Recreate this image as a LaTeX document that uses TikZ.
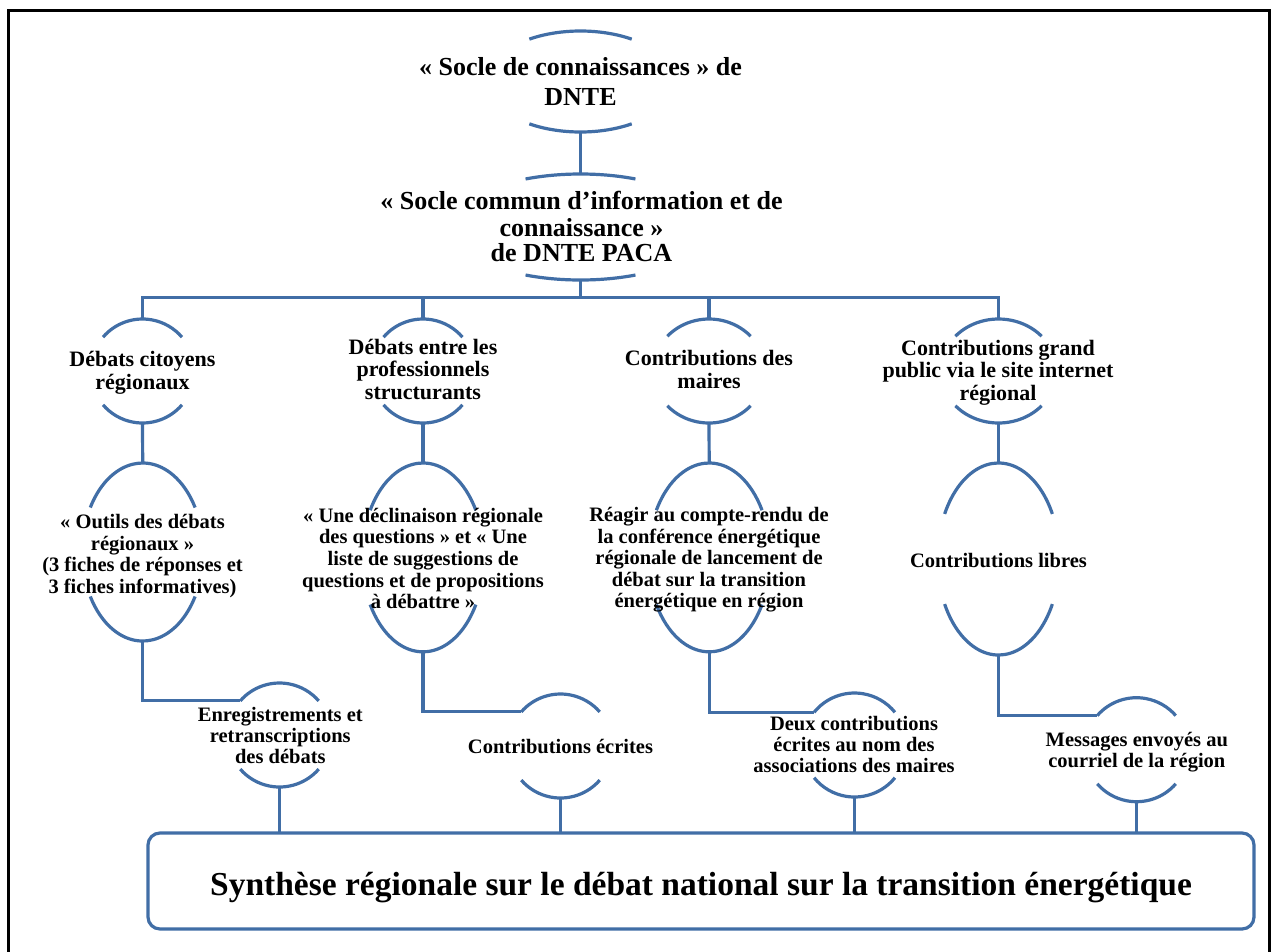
\documentclass[tikz,border=0pt]{standalone}
\usepackage{fontspec}
\setmainfont{Liberation Serif}
\usetikzlibrary{shapes.geometric,calc}
\definecolor{lineblue}{RGB}{65,110,166}
\tikzset{
  conn/.style={draw=lineblue, line width=3.2pt},
  shapearc/.style={draw=lineblue, line width=3.2pt},
  hold/.style={ellipse, draw=none, inner sep=0pt, outer sep=0pt},
  lab/.style={align=center, inner sep=0pt},
  fA/.style={lab, font=\fontsize{26}{30}\selectfont\bfseries},
  fB/.style={lab, font=\fontsize{26}{25.3}\selectfont\bfseries},
  fC/.style={lab, font=\fontsize{22}{22.5}\selectfont\bfseries},
  fD/.style={lab, font=\fontsize{20.5}{21.6}\selectfont\bfseries},
  fE/.style={lab, font=\fontsize{20.5}{21}\selectfont\bfseries},
  fF/.style={lab, font=\fontsize{33.5}{38}\selectfont\bfseries},
}
\newcommand\ovalnode[6]{%
  \node[hold, minimum width=#4*2pt, minimum height=#5*2pt] (#1) at (#2,#3) {};
  \draw[shapearc] (#1.center) ++({180+#6}:{#4} and {#5}) coordinate (#1-tl)
     arc[start angle={180+#6}, end angle={360-#6}, x radius=#4, y radius=#5];
  \draw[shapearc] (#1.center) ++({#6}:{#4} and {#5})
     arc[start angle={#6}, end angle={180-#6}, x radius=#4, y radius=#5];
}
\begin{document}
\begin{tikzpicture}[x=1pt,y=-1pt]
\useasboundingbox (0,0) rectangle (1271,951);
\fill[white] (0,0) rectangle (1271,951);
% outer frame
\draw[line width=3pt] (8.8,960) -- (8.8,10.3) -- (1269.6,10.3) -- (1269.6,960);

% shapes
\ovalnode{n1}{580.5}{81.5}{94}{50.5}{57}
\ovalnode{n2}{580.5}{227}{130}{53}{65}
\ovalnode{l2a}{142.5}{371}{52}{52}{40.6}
\ovalnode{l2b}{423}{371}{52}{52}{40.6}
\ovalnode{l2c}{709}{371}{56}{52}{42}
\ovalnode{l2d}{998.5}{371}{58}{52}{42}
\ovalnode{l3a}{142.7}{552}{60.5}{89}{30}
\ovalnode{l3b}{423}{557.4}{61}{94.4}{30}
\ovalnode{l3c}{709.2}{557.4}{61}{94.4}{30}
\ovalnode{l3d}{998.5}{559}{61}{96}{28}
\ovalnode{l4a}{279.5}{735}{52}{52}{41}
\ovalnode{l4b}{560.5}{746}{52}{52}{41}
\ovalnode{l4c}{854.5}{745}{52}{52}{39}
\ovalnode{l4d}{1136.5}{749.7}{52}{52}{41}

\node[draw=lineblue, line width=3.2pt, rounded corners=12pt, minimum width=1106pt,
      minimum height=96pt, inner sep=0pt, outer sep=0pt] (syn) at (701,881) {};

% connectors
\coordinate (bus) at (580.5,297.5);
\draw[conn] (n1.south) -- (n2.north);
\draw[conn] (n2.south) -- (bus);
\draw[conn] (l2a.north) |- (bus) -| (l2d.north);
\draw[conn] (l2b.north) -- (l2b.north |- bus);
\draw[conn] (l2c.north) -- (l2c.north |- bus);
\foreach \s in {a,b,c,d}{
  \draw[conn] (l2\s.south) -- (l3\s.north);
  \draw[conn] (l3\s.south) |- (l4\s-tl);
  \draw[conn] (l4\s.south) -- (l4\s.south |- syn.north);
}

% texts
\node[fA] (t-n1) at (580.5,84) {\strut« Socle de connaissances » de\\DNTE\strut};
\node[fB] (t-n2) at (581.5,230.3) {\strut« Socle commun d’information et de\\connaissance »\\de DNTE PACA\strut};
\node[fC] (t-l2a) at (142.5,373.5) {\strut Débats citoyens\\régionaux\strut};
\node[fC] (t-l2b) at (423,372.2) {\strut Débats entre les\\professionnels\\structurants\strut};
\node[fC] (t-l2c) at (709,372.7) {\strut Contributions des\\maires\strut};
\node[fC] (t-l2d) at (998,373.4) {\strut Contributions grand\\public via le site internet\\régional\strut};
\node[fD] (t-l3a) at (142.5,556.5) {\strut« Outils des débats\\régionaux »\\(3 fiches de réponses et\\3 fiches informatives)\strut};
\node[fD] (t-l3b) at (423,561.2) {\strut« Une déclinaison régionale\\des questions » et « Une\\liste de suggestions de\\questions et de propositions\\à débattre »\strut};
\node[fD] (t-l3c) at (709,560.4) {\strut Réagir au compte-rendu de\\la conférence énergétique\\régionale de lancement de\\débat sur la transition\\énergétique en région\strut};
\node[fD] (t-l3d) at (998.5,563) {\strut Contributions libres\strut};
\node[fE] (t-l4a) at (280.3,738) {\strut Enregistrements et\\retranscriptions\\des débats\strut};
\node[fE] (t-l4b) at (560.5,749.1) {\strut Contributions écrites\strut};
\node[fE] (t-l4c) at (854,747.2) {\strut Deux contributions\\écrites au nom des\\associations des maires\strut};
\node[fE] (t-l4d) at (1136.8,752.5) {\strut Messages envoyés au\\courriel de la région\strut};
\node[fF] (t-syn) at (701,887.4) {\strut Synthèse régionale sur le débat national sur la transition énergétique\strut};
\end{tikzpicture}
\end{document}
